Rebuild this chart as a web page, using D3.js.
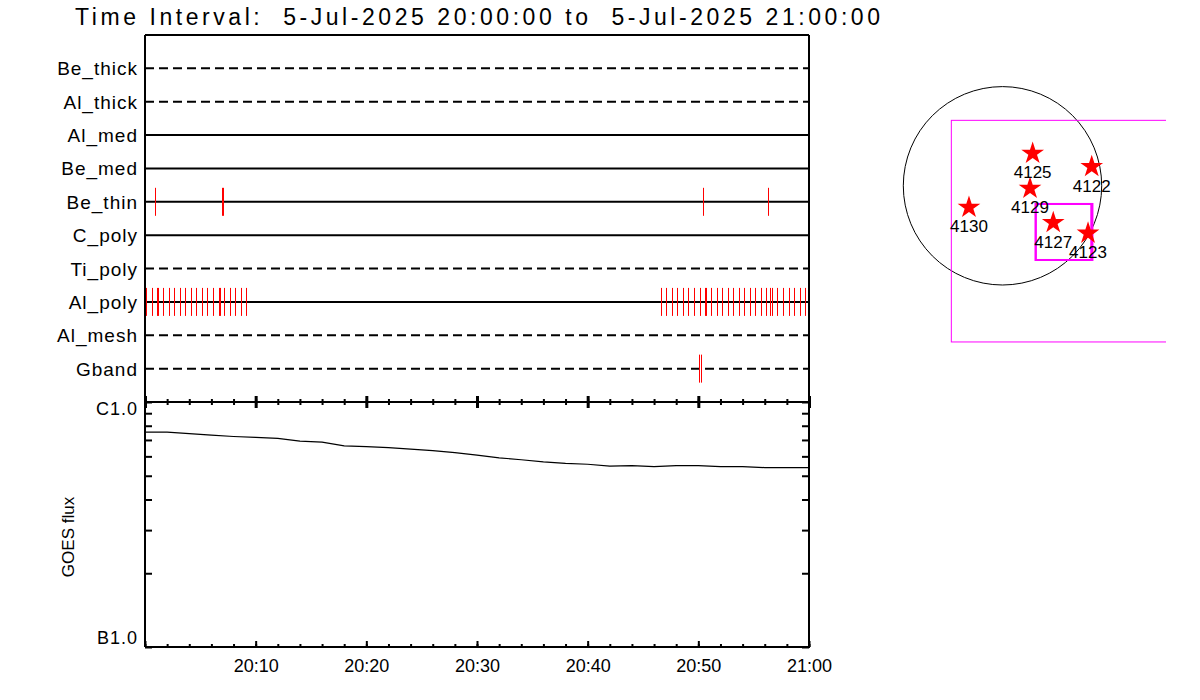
<!DOCTYPE html>
<html>
<head>
<meta charset="utf-8">
<style>
  body { margin: 0; background: #fff; }
  svg { display: block; font-family: "Liberation Sans", Arial, sans-serif; }
</style>
</head>
<body>
<div id="chart"></div>
<script src="https://cdn.jsdelivr.net/npm/d3@7/dist/d3.min.js"></script>
<script>

// detector rows, top to bottom
var detectors = ["Be_thick", "Al_thick", "Al_med", "Be_med", "Be_thin", "C_poly", "Ti_poly", "Al_poly", "Al_mesh", "Gband"];
var dashedRows = ["Be_thick", "Al_thick", "Ti_poly", "Al_mesh", "Gband"];

// event markers, seconds after 20:00:00 UT
var beThinEvents = [56, 415, 421, 3027, 3379];
var alPolyEvents = [5, 36, 67, 73, 98, 129, 157, 188, 218, 248, 278, 309, 338, 369, 400, 404, 428, 459, 490, 519, 549,
    2796, 2825, 2856, 2886, 2915, 2946, 2975, 3011, 3038, 3044, 3070, 3100, 3130, 3159, 3190, 3219, 3249, 3280,
    3309, 3340, 3368, 3390, 3398, 3428, 3459, 3490, 3520, 3551, 3580];
var gbandEvents = [3005, 3016];

// GOES flux (W/m^2), minutes after 20:00
var goesMinutes = [0, 2, 4, 6, 8, 10, 12, 14, 16, 18, 20, 22, 24, 26, 28, 30, 32, 34, 36, 38, 40, 42, 44, 46, 48, 50, 52, 54, 56, 58, 60];
var goesFlux = [7.53e-7, 7.53e-7, 7.43e-7, 7.32e-7, 7.23e-7, 7.17e-7, 7.10e-7, 6.92e-7, 6.86e-7, 6.62e-7, 6.58e-7,
    6.51e-7, 6.42e-7, 6.33e-7, 6.21e-7, 6.07e-7, 5.92e-7, 5.81e-7, 5.70e-7, 5.62e-7, 5.57e-7, 5.47e-7, 5.50e-7,
    5.45e-7, 5.50e-7, 5.50e-7, 5.45e-7, 5.45e-7, 5.40e-7, 5.40e-7, 5.40e-7];
var fluxValues = [1e-6, 1e-7];
var fluxLabels = ["C1.0", "B1.0"];

// active regions, arcsec from disk centre
var regionNames = ["4125", "4122", "4129", "4130", "4127", "4123"];
var regionX = [287, 849, 262, -319, 483, 814];
var regionY = [309, 182, -24, -205, -351, -452];
var solarRadius = 944;
// field of view boxes [x0, y0, x1, y1] arcsec
var fovBoxes = [[-487, 623, 1600, -1486]];
var smallBoxes = [[316, -173, 845, -706], [316, -173, 856, -706]];

var title = "Time Interval:  5-Jul-2025 20:00:00 to  5-Jul-2025 21:00:00";

var W = 1200, H = 700;
var pLeft = 145, pRight = 809, pTop = 35, pMid = 402, pBottom = 647;

var svg = d3.select("#chart").append("svg")
    .attr("width", W)
    .attr("height", H);

var t0 = new Date(Date.UTC(2025, 6, 5, 20, 0, 0));
var t1 = new Date(Date.UTC(2025, 6, 5, 21, 0, 0));
var x = d3.scaleUtc().domain([t0, t1]).range([pLeft, pRight]);
function secs(s) { return new Date(t0.getTime() + s * 1000); }

// title
svg.append("text")
    .attr("x", 75).attr("y", 25)
    .attr("font-size", 23)
    .attr("textLength", 805)
    .attr("lengthAdjust", "spacing")
    .style("white-space", "pre")
    .text(title);

// upper panel rows
var row = d3.scaleLinear().domain([0, detectors.length + 1]).range([pTop, pMid]);

svg.append("g").selectAll("line")
    .data(detectors)
    .enter().append("line")
    .attr("x1", pLeft).attr("x2", pRight)
    .attr("y1", function(d, i) { return row(i + 1); })
    .attr("y2", function(d, i) { return row(i + 1); })
    .attr("stroke", "#000")
    .attr("stroke-width", 2)
    .attr("stroke-dasharray", function(d) { return dashedRows.indexOf(d) >= 0 ? "9,5" : null; });

svg.append("g").selectAll("text")
    .data(detectors)
    .enter().append("text")
    .attr("x", 138)
    .attr("y", function(d, i) { return row(i + 1) + 7; })
    .attr("text-anchor", "end")
    .attr("font-size", 19)
    .attr("letter-spacing", 1)
    .text(function(d) { return d; });

function drawEvents(times, name) {
    var yy = row(detectors.indexOf(name) + 1);
    svg.append("g").selectAll("line")
        .data(times)
        .enter().append("line")
        .attr("x1", function(d) { return Math.round(x(secs(d))) + 0.5; })
        .attr("x2", function(d) { return Math.round(x(secs(d))) + 0.5; })
        .attr("y1", yy - 14).attr("y2", yy + 14)
        .attr("stroke", "#ff0000")
        .attr("stroke-width", 1);
}
drawEvents(beThinEvents, "Be_thin");
drawEvents(alPolyEvents, "Al_poly");
drawEvents(gbandEvents, "Gband");

// lower panel: GOES
var y = d3.scaleLog().domain([1e-7, 1e-6]).range([pBottom, pMid]);

var line = d3.line()
    .x(function(d, i) { return x(secs(goesMinutes[i] * 60)); })
    .y(function(d) { return y(d); });

svg.append("path")
    .datum(goesFlux)
    .attr("d", line)
    .attr("fill", "none")
    .attr("stroke", "#000")
    .attr("stroke-width", 1.2);

// time axes
var major = d3.utcMinute.every(10), minor = d3.utcMinute.every(2);
function timeAxis(axisFn, yPos, interval, size, sw) {
    svg.append("g")
        .attr("transform", "translate(0," + yPos + ")")
        .call(axisFn(x).ticks(interval).tickSize(size).tickFormat(""))
        .call(function(g) {
            g.select(".domain").remove();
            g.selectAll(".tick line").attr("stroke-width", sw);
        });
}
timeAxis(d3.axisTop, pMid, minor, 3, 2);
timeAxis(d3.axisBottom, pMid, minor, 3, 2);
timeAxis(d3.axisTop, pMid, major, 6, 3);
timeAxis(d3.axisBottom, pMid, major, 6, 3);
timeAxis(d3.axisTop, pBottom, minor, 3, 2);
timeAxis(d3.axisTop, pBottom, major, 6, 2);

svg.append("g")
    .attr("transform", "translate(0," + pBottom + ")")
    .call(d3.axisBottom(x).ticks(major).tickSize(0).tickPadding(12)
        .tickFormat(function(d) { return +d === +t0 ? "" : d3.utcFormat("%H:%M")(d); }))
    .call(function(g) {
        g.select(".domain").remove();
        g.selectAll("text").attr("font-size", 18).attr("font-family", "Liberation Sans, Arial, sans-serif").attr("fill", "#000");
    });

// flux axes (log minor ticks)
var fluxTicks = y.ticks();
svg.append("g")
    .attr("transform", "translate(" + pLeft + ",0)")
    .call(d3.axisLeft(y).tickValues(fluxTicks).tickSize(-7).tickFormat(""))
    .call(function(g) { g.select(".domain").remove(); g.selectAll(".tick line").attr("stroke-width", 2); });
svg.append("g")
    .attr("transform", "translate(" + pRight + ",0)")
    .call(d3.axisRight(y).tickValues(fluxTicks).tickSize(-7).tickFormat(""))
    .call(function(g) { g.select(".domain").remove(); g.selectAll(".tick line").attr("stroke-width", 2); });

svg.append("g").selectAll("text")
    .data(fluxValues)
    .enter().append("text")
    .attr("x", 138)
    .attr("y", function(d, i) { return i === 0 ? y(d) + 13 : y(d) - 3; })
    .attr("text-anchor", "end")
    .attr("font-size", 18)
    .attr("letter-spacing", 1)
    .text(function(d, i) { return fluxLabels[i]; });

svg.append("text")
    .attr("transform", "translate(74,537) rotate(-90)")
    .attr("text-anchor", "middle")
    .attr("font-size", 17)
    .text("GOES flux");

// frames
var frame = svg.append("g").attr("stroke", "#000").attr("stroke-width", 2).attr("fill", "none");
frame.append("line").attr("x1", pLeft).attr("x2", pRight).attr("y1", pTop).attr("y2", pTop);
frame.append("line").attr("x1", pLeft).attr("x2", pRight).attr("y1", pMid).attr("y2", pMid);
frame.append("line").attr("x1", pLeft).attr("x2", pRight + 1).attr("y1", pBottom).attr("y2", pBottom);
frame.append("line").attr("x1", pLeft).attr("x2", pLeft).attr("y1", pTop).attr("y2", pBottom);
frame.append("line").attr("x1", pRight).attr("x2", pRight).attr("y1", pTop).attr("y2", pBottom);

// solar map
var mx = d3.scaleLinear().domain([-solarRadius, solarRadius]).range([903.3, 1101.7]);
var my = d3.scaleLinear().domain([-solarRadius, solarRadius]).range([285, 86.6]);

svg.append("clipPath").attr("id", "mapclip")
    .append("rect").attr("x", 880).attr("y", 40).attr("width", 286).attr("height", 320);
var map = svg.append("g").attr("clip-path", "url(#mapclip)");

map.append("circle")
    .attr("cx", mx(0)).attr("cy", my(0))
    .attr("r", mx(solarRadius) - mx(0))
    .attr("fill", "none").attr("stroke", "#000").attr("stroke-width", 1);

map.selectAll(".fov")
    .data(fovBoxes)
    .enter().append("rect")
    .attr("x", function(d) { return mx(d[0]); })
    .attr("y", function(d) { return my(d[1]); })
    .attr("width", function(d) { return mx(d[2]) - mx(d[0]); })
    .attr("height", function(d) { return my(d[3]) - my(d[1]); })
    .attr("fill", "none").attr("stroke", "#ff00ff").attr("stroke-width", 1);

map.selectAll(".box")
    .data(smallBoxes)
    .enter().append("rect")
    .attr("x", function(d) { return mx(d[0]); })
    .attr("y", function(d) { return my(d[1]); })
    .attr("width", function(d) { return mx(d[2]) - mx(d[0]); })
    .attr("height", function(d) { return my(d[3]) - my(d[1]); })
    .attr("fill", "none").attr("stroke", "#ff00ff").attr("stroke-width", 2);

var star = d3.symbol().type(d3.symbolStar).size(160);
map.selectAll(".star")
    .data(regionNames)
    .enter().append("path")
    .attr("d", star)
    .attr("transform", function(d, i) { return "translate(" + mx(regionX[i]) + "," + my(regionY[i]) + ")"; })
    .attr("fill", "#ff0000");

map.selectAll(".lab")
    .data(regionNames)
    .enter().append("text")
    .attr("x", function(d, i) { return mx(regionX[i]); })
    .attr("y", function(d, i) { return my(regionY[i]) + 25; })
    .attr("text-anchor", "middle")
    .attr("font-size", 17)
    .text(function(d) { return d; });

</script>
</body>
</html>
